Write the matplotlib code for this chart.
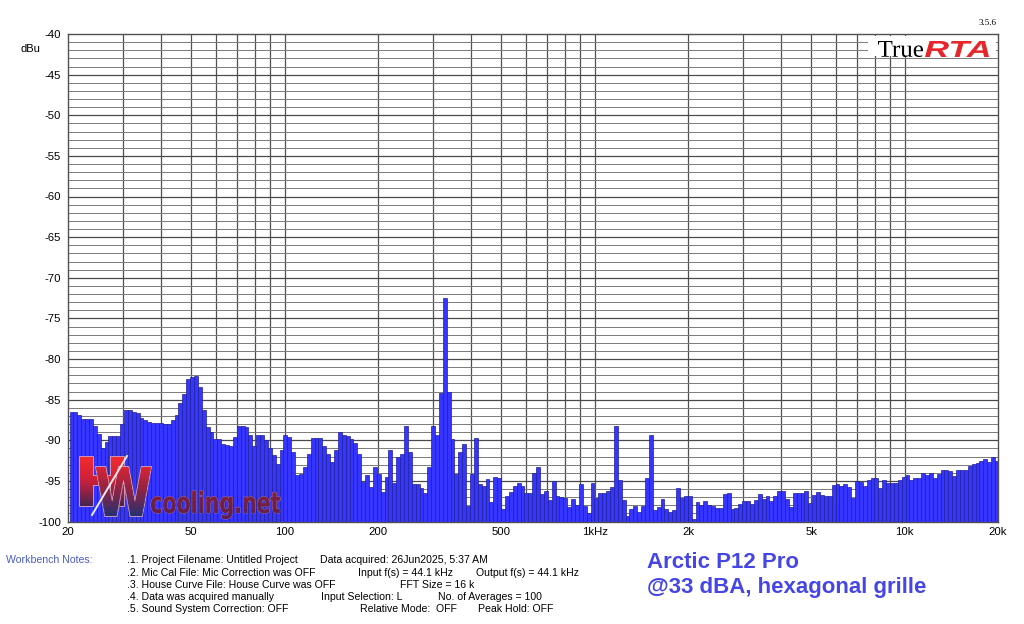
import numpy as np
import matplotlib
matplotlib.use("Agg")
import matplotlib.pyplot as plt
from matplotlib.textpath import TextPath
from matplotlib.patches import PathPatch, Rectangle
from matplotlib.font_manager import FontProperties
from matplotlib.colors import LinearSegmentedColormap
import matplotlib.transforms as mtransforms

# ---------------- data (1/24 octave RTA levels, dBu) ----------------
levels_20_50 = [-86.5, -86.5, -86.9, -87.35, -87.35, -87.35, -88.3, -89.2, -90.9, -90.2,
                -89.5, -89.5, -89.5, -87.95, -86.3, -86.3, -86.5, -86.7, -87.2, -87.55,
                -87.8, -87.85, -87.9, -87.9, -87.95, -87.95, -87.55, -86.95, -85.4, -84.3,
                -82.45, -82.2]
levels_50_200 = [-82.05, -83.5, -86.3, -88.4, -89.0, -89.8, -89.9, -90.4, -90.6, -90.75,
                 -89.6, -88.25, -88.2, -88.4, -89.4, -90.75, -89.4, -89.4, -90.0, -91.0,
                 -91.85, -92.9, -91.25, -89.4, -89.6, -91.45, -94.3, -94.1, -93.3, -91.65,
                 -89.7, -89.7, -89.7, -90.7, -91.7, -92.7, -91.15, -89.0, -89.4, -89.5,
                 -89.8, -90.3, -91.75, -95.1, -94.3, -95.8, -93.3, -94.1]
levels_200_1k = [-96.4, -94.5, -91.2, -95.2, -92.0, -91.7, -88.25, -91.5, -95.4, -95.4,
                 -95.9, -96.55, -93.3, -88.2, -89.3, -84.2, -72.5, -84.0, -89.8, -94.1,
                 -91.45, -90.5, -98.1, -94.1, -89.7, -95.4, -95.65, -94.8, -97.6, -94.5,
                 -94.6, -98.4, -96.8, -96.35, -95.6, -95.25, -95.6, -96.55, -96.55, -94.0,
                 -93.3, -96.6, -96.2, -97.4, -95.05, -96.8, -97.0, -97.05, -98.2, -97.2,
                 -98.0, -95.4, -98.1, -98.9, -95.2, -97.05]
levels_1k_5k = [-96.55, -96.5, -96.3, -95.8, -88.3, -94.9, -97.4, -99.3, -98.5, -98.1,
                -98.8, -98.1, -94.6, -89.3, -98.6, -98.2, -97.2, -98.4, -98.8, -98.6,
                -95.9, -97.05, -96.9, -96.9, -99.75, -97.6, -98.0, -97.45, -98.0, -98.1,
                -98.3, -98.3, -96.6, -96.55, -98.5, -98.3, -97.8, -97.45, -97.45, -97.8,
                -97.3, -96.6, -97.2, -96.9, -97.45, -96.9, -96.3, -96.25, -97.2, -98.2,
                -96.55, -96.55, -96.55, -96.3, -97.7, -96.75]
levels_5k_20k = [-96.35, -96.7, -96.8, -96.9, -95.5, -95.4, -95.65, -95.4, -95.8, -97.05,
                 -95.0, -95.1, -95.65, -94.85, -94.7, -94.6, -95.9, -94.85, -95.25, -95.25,
                 -95.25, -94.85, -94.5, -94.3, -94.85, -94.6, -94.6, -94.0, -94.3, -94.0,
                 -94.6, -94.1, -93.6, -93.6, -93.8, -94.4, -93.7, -93.7, -93.6, -93.2,
                 -92.95, -92.8, -92.5, -92.3, -92.7, -92.1, -92.5]

x_ticks = [20, 50, 100, 200, 500, 1000, 2000, 5000, 10000, 20000]
x_ticklabels = ["20", "50", "100", "200", "500", "1kHz", "2k", "5k", "10k", "20k"]
y_ticks = list(range(-100, -39, 5))

notes_left = [".1. Project Filename: Untitled Project",
              ".2. Mic Cal File: Mic Correction was OFF",
              ".3. House Curve File: House Curve was OFF",
              ".4. Data was acquired manually",
              ".5. Sound System Correction: OFF"]

levels = np.array(levels_20_50 + levels_50_200 + levels_200_1k + levels_1k_5k + levels_5k_20k)
n = len(levels)
band_lo = 20 * 2 ** ((np.arange(n) + 0.4) / 24)     # 1/24-octave bands
band_w = band_lo * (2 ** (1 / 24) - 1)

# ---------------- figure ----------------
W, H = 1024, 624
fig = plt.figure(figsize=(W / 100, H / 100), dpi=100)
fig.patch.set_facecolor("white")


def fx(px):
    return px / W


def fy(py):
    return 1 - py / H


AX_L, AX_R, AX_T, AX_B = 68, 998, 34, 521.5
ax = fig.add_axes([fx(AX_L), fy(AX_B), (AX_R - AX_L) / W, (AX_B - AX_T) / H])
ax.set_xscale("log")
ax.set_xlim(20, 20000)
ax.set_ylim(-100, -40)
ax.set_facecolor("white")

# grid
for dec in [10, 100, 1000, 10000]:
    for m in range(1, 10):
        f = dec * m
        if 20 < f < 20000:
            ax.axvline(f, color="#505050", lw=0.9, zorder=1)
for v in range(-99, -40):
    major = (v % 5 == 0)
    ax.axhline(v, color="#4a4a4a" if major else "#7a7a7a",
               lw=0.9 if major else 0.7, zorder=1)

ax.bar(band_lo, levels + 100, width=band_w, bottom=-100, align="edge",
       color="#3535ff", edgecolor="#20209a", linewidth=0.5, zorder=3)

ax.set_xticks(x_ticks)
ax.set_xticklabels(x_ticklabels)
ax.xaxis.set_minor_locator(matplotlib.ticker.NullLocator())
ax.set_yticks(y_ticks)
ax.set_yticklabels([str(v) for v in y_ticks])
ax.tick_params(axis="both", length=0, labelsize=8.2, colors="black")
ax.tick_params(axis="x", pad=4)
ax.tick_params(axis="y", pad=5)
for lab in ax.get_xticklabels() + ax.get_yticklabels():
    lab.set_family(["Liberation Sans", "DejaVu Sans"])
for s in ax.spines.values():
    s.set_color("#505050")
    s.set_linewidth(1.0)
    s.set_zorder(4)

# ---------------- overlay in pixel coordinates ----------------
ov = fig.add_axes([0, 0, 1, 1], zorder=10)
ov.set_xlim(0, W)
ov.set_ylim(H, 0)
ov.axis("off")
ov.patch.set_alpha(0)


def fitted_path(s, x0, x1, ytop, ybot, prop):
    tp = TextPath((0, 0), s, size=100, prop=prop)
    ext = tp.get_extents()
    sx = (x1 - x0) / ext.width
    sy = (ybot - ytop) / ext.height
    tr = (mtransforms.Affine2D().translate(-ext.x0, -ext.y0)
          .scale(sx, -sy).translate(x0, ybot))
    return tr.transform_path(tp)


def gradient_fill(path, box, cmap, z, nstrip=40, edge=None, edge_lw=1.0):
    x0, x1, y0, y1 = box
    if edge is not None:
        ov.add_patch(PathPatch(path, facecolor=cmap(0.5), edgecolor=edge,
                               lw=edge_lw, zorder=z - 0.1))
    clip = PathPatch(path, facecolor="none", edgecolor="none", transform=ov.transData)
    ov.add_patch(clip)
    hs = (y1 - y0) / nstrip
    for i in range(nstrip):
        r = Rectangle((x0 - 2, y0 + i * hs - 0.3), x1 - x0 + 4, hs + 0.6,
                      facecolor=cmap(i / (nstrip - 1)), edgecolor="none", zorder=z)
        ov.add_patch(r)
        r.set_clip_path(clip)


# HW logo (watermark)
heavy = FontProperties(family=["DejaVu Sans", "Liberation Sans"], weight="bold")
cmap_h = LinearSegmentedColormap.from_list("h", ["#f22a2e", "#c8203a", "#4a2450"])
cmap_w = LinearSegmentedColormap.from_list("w", ["#d82434", "#8a2445", "#283070"])
pH = fitted_path("H", 80, 124, 457, 506, heavy)
gradient_fill(pH, (80, 124, 457, 506), cmap_h, 12, edge="#e8a8b8", edge_lw=1.2)
pW = fitted_path("W", 96, 151, 467, 516, heavy)
gradient_fill(pW, (96, 151, 467, 516), cmap_w, 13, edge="#d8a8c0", edge_lw=1.2)
ov.plot([127, 92], [456, 515], color="white", lw=1.4, alpha=0.9, zorder=14)

pc = fitted_path("cooling.net", 151, 280, 491, 519, heavy)
cmap_c = LinearSegmentedColormap.from_list("c", ["#82203c", "#5a2050"])
gradient_fill(pc, (151, 280, 491, 519), cmap_c, 12, edge="#b07898", edge_lw=0.7)

ov.set_xlim(0, W)
ov.set_ylim(H, 0)

# TrueRTA logo
ov.add_patch(Rectangle((868, 35.5), 128, 20, facecolor="white", edgecolor="none", zorder=11))
serif = FontProperties(family=["Liberation Serif", "DejaVu Serif"])
p = fitted_path("True", 878, 923, 41, 57, serif)
ov.add_patch(PathPatch(p, facecolor="black", edgecolor="none", zorder=12))
bi = FontProperties(family=["Liberation Sans", "DejaVu Sans"], weight="bold", style="italic")
p = fitted_path("RTA", 925, 989, 41, 57, bi)
ov.add_patch(PathPatch(p, facecolor="#e6262b", edgecolor="none", zorder=12))
ov.text(988, 23, "3.5.6", fontsize=6.5, family=["Liberation Serif", "DejaVu Serif"],
        ha="center", va="center", zorder=12)

ov.text(30, 49, "dBu", fontsize=8, family=["Liberation Sans", "DejaVu Sans"],
        ha="center", va="center")

# workbench notes
nfam = ["Liberation Sans Narrow", "Liberation Sans", "DejaVu Sans"]
nsz = 7.6
ov.text(6, 560, "Workbench Notes:", fontsize=nsz, family=nfam, color="#4a5cc4",
        ha="left", va="center")
rows_y = [560, 572.5, 585, 597, 609]
for yy, s in zip(rows_y, notes_left):
    ov.text(127, yy, s, fontsize=nsz, family=nfam, ha="left", va="center")
extra = [(320, 560, "Data acquired: 26Jun2025, 5:37 AM"),
         (358, 572.5, "Input f(s) = 44.1 kHz"),
         (476, 572.5, "Output f(s) = 44.1 kHz"),
         (400, 585, "FFT Size = 16 k"),
         (321, 597, "Input Selection: L"),
         (438, 597, "No. of Averages = 100"),
         (360, 609, "Relative Mode:  OFF"),
         (478, 609, "Peak Hold: OFF")]
for xx, yy, s in extra:
    ov.text(xx, yy, s, fontsize=nsz, family=nfam, ha="left", va="center")

# title block
tfam = ["Liberation Sans", "DejaVu Sans"]
ov.text(647, 563, "Arctic P12 Pro", fontsize=16, weight="bold", family=tfam,
        color="#4646e6", ha="left", va="center")
ov.text(647, 588, "@33 dBA, hexagonal grille", fontsize=16, weight="bold", family=tfam,
        color="#4646e6", ha="left", va="center")

fig.savefig("out.png", dpi=100)
